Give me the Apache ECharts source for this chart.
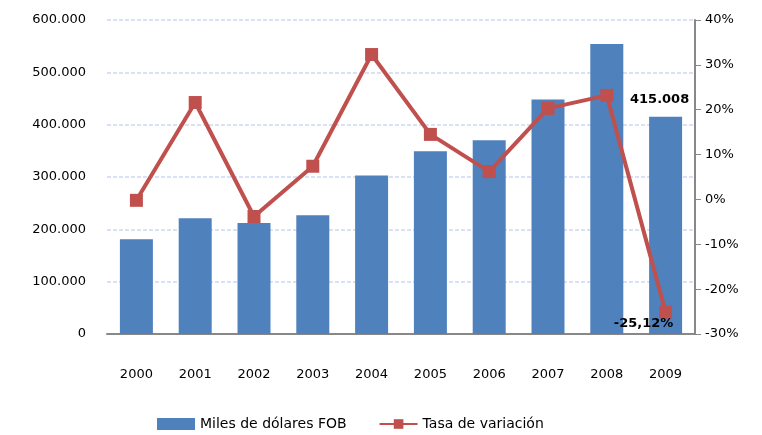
<!DOCTYPE html>
<html>
<head>
<meta charset="utf-8">
<script src="https://cdn.jsdelivr.net/npm/echarts@6/dist/echarts.min.js"></script>
<style>
  html, body { margin: 0; padding: 0; background: #fff; }
  #chart { width: 762px; height: 435px; }
</style>
</head>
<body>
<div id="chart"></div>
<script>
var years = ["2000", "2001", "2002", "2003", "2004", "2005", "2006", "2007", "2008", "2009"];
var miles = [181000, 221000, 212000, 227000, 303000, 349000, 370000, 448000, 554300, 415008];
var tasa = [-0.2, 21.6, -3.8, 7.4, 32.3, 14.5, 6.2, 20.3, 23.2, -25.12];
var leftTicks = [0, 600000, 100000];
var rightTicks = [-30, 40, 10];

function miles_fmt(v) {
  return String(v).replace(/\B(?=(\d{3})+(?!\d))/g, ".");
}

var chart = echarts.init(document.getElementById("chart"));
chart.setOption({
  animation: false,
  textStyle: { fontFamily: "DejaVu Sans", color: "#000" },
  grid: { left: 107, right: 67, top: 20, bottom: 101 },
  legend: {
    top: 412,
    left: 152,
    itemGap: 32,
    itemWidth: 38,
    itemHeight: 12,
    textStyle: { fontSize: 14, color: "#000" },
    data: [
      { name: "Miles de dólares FOB", icon: "rect" },
      { name: "Tasa de variación" }
    ]
  },
  xAxis: {
    type: "category",
    data: years,
    axisTick: { show: false },
    axisLine: { lineStyle: { color: "#888", width: 2 } },
    axisLabel: { fontSize: 13, color: "#000", margin: 34 }
  },
  yAxis: [
    {
      type: "value",
      min: leftTicks[0],
      max: leftTicks[1],
      interval: leftTicks[2],
      axisLine: { show: false },
      axisTick: { show: false },
      axisLabel: { fontSize: 13, color: "#000", margin: 21, formatter: miles_fmt },
      splitLine: { lineStyle: { color: "#cbd8f3", type: [4, 2], width: 1.5 } }
    },
    {
      type: "value",
      position: "right",
      min: rightTicks[0],
      max: rightTicks[1],
      interval: rightTicks[2],
      axisLine: { show: true, lineStyle: { color: "#888", width: 2 } },
      axisTick: { show: true, length: 6, lineStyle: { color: "#888" } },
      axisLabel: { fontSize: 13, color: "#000", margin: 10, formatter: "{value}%" },
      splitLine: { show: false }
    }
  ],
  series: [
    {
      name: "Miles de dólares FOB",
      type: "bar",
      data: miles,
      barWidth: 33,
      itemStyle: { color: "#4f81bd" },
      label: {
        show: true,
        position: "top",
        offset: [-6, -6],
        fontSize: 13,
        fontWeight: "bold",
        color: "#000",
        formatter: function (p) {
          return p.dataIndex === miles.length - 1 ? miles_fmt(p.value) : "";
        }
      }
    },
    {
      name: "Tasa de variación",
      type: "line",
      yAxisIndex: 1,
      data: tasa,
      symbol: "rect",
      symbolSize: 13,
      lineStyle: { color: "#c0504d", width: 4 },
      itemStyle: { color: "#c0504d", borderColor: "#c0504d", borderWidth: 0, opacity: 1 },
      label: {
        show: true,
        position: "bottom",
        offset: [-22, -6],
        fontSize: 13,
        fontWeight: "bold",
        color: "#000",
        formatter: function (p) {
          return p.dataIndex === tasa.length - 1 ? String(p.value).replace(".", ",") + "%" : "";
        }
      }
    }
  ]
});
</script>
</body>
</html>
